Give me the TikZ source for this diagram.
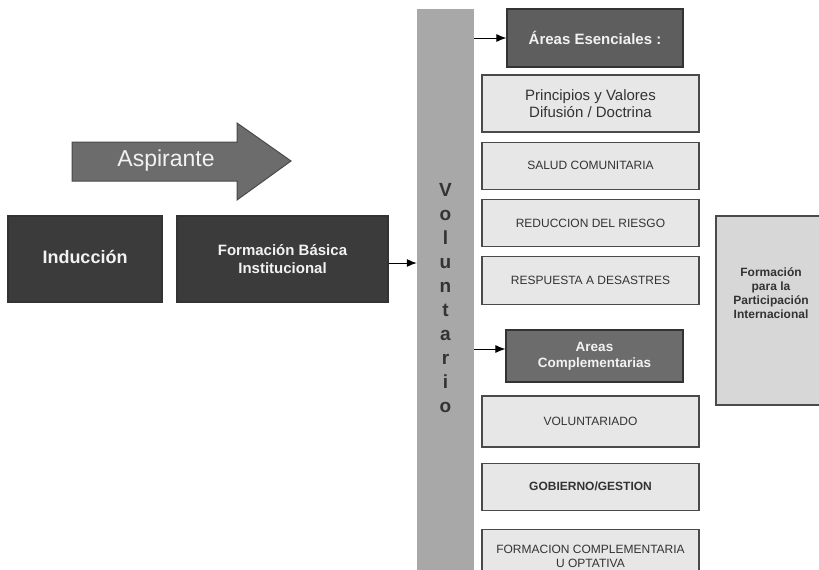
\documentclass[tikz,border=0pt]{standalone}
\usepackage{fontspec}
\setmainfont{Liberation Sans}
\usetikzlibrary{arrows.meta,positioning}

\definecolor{darkfill}{HTML}{3B3B3B}
\definecolor{midfill}{HTML}{5E5E5E}
\definecolor{arrowfill}{HTML}{6C6C6C}
\definecolor{lightfill}{HTML}{E7E7E7}
\definecolor{sidefill}{HTML}{D7D7D7}
\definecolor{barfill}{HTML}{A8A8A8}
\definecolor{edgegray}{HTML}{4A4A4A}
\definecolor{inktext}{HTML}{333333}
\definecolor{paletext}{HTML}{F2F2F2}

\begin{document}
\begin{tikzpicture}[x=1pt,y=-1pt,>={Latex[length=10pt,width=8pt]},node distance=9pt,
  every node/.style={align=center,inner sep=0pt},
  darkbox/.style={draw=black!80,line width=1.2pt,fill=darkfill,text=paletext,font=\bfseries},
  headbox/.style={draw=black!80,line width=1.2pt,fill=midfill,text=paletext,font=\bfseries},
  areabox/.style={draw=edgegray,line width=1.2pt,fill=lightfill,text=inktext,
    minimum width=217pt,minimum height=47pt,font=\fontsize{12}{14}\selectfont},
  link/.style={->,line width=1pt}]
  \useasboundingbox (0,0) rectangle (819,570);
  \clip (0,0) rectangle (819,570);

  % aspirante arrow
  \draw[draw=edgegray,line width=1pt,fill=arrowfill]
    (72,142) -- (237,142) -- (237,123) -- (291,161) -- (237,200) -- (237,181) -- (72,181) -- cycle;
  \node[text=paletext,font=\fontsize{23}{27}\selectfont] (asp) at (166,161) {Aspirante};

  % left boxes
  \node[darkbox,minimum width=154pt,minimum height=86pt,font=\fontsize{18}{21}\selectfont\bfseries]
    (induc) at (85,259) {\raisebox{5pt}{Inducci\'on}};
  \node[darkbox,minimum width=211pt,minimum height=86pt,font=\fontsize{15}{18}\selectfont\bfseries]
    (fbi) at (282.5,259) {Formaci\'on B\'asica\\Institucional};

  % voluntario bar
  \node[fill=barfill,minimum width=57pt,minimum height=578pt,text=inktext,
    font=\fontsize{19}{24}\selectfont\bfseries]
    (vol) at (445.5,298) {V\\o\\l\\u\\n\\t\\a\\r\\i\\o};

  % areas esenciales
  \node[headbox,minimum width=176pt,minimum height=58pt,font=\fontsize{15}{18}\selectfont\bfseries]
    (esen) at (595,38) {\'Areas Esenciales :};
  \node[areabox,minimum height=57pt,font=\fontsize{15}{17}\selectfont]
    (prin) at (590.5,103.5) {Principios y Valores\\Difusi\'on / Doctrina};
  \node[areabox] (salud) [below=of prin] {SALUD COMUNITARIA};
  \node[areabox] (riesgo) [below=of salud] {REDUCCION DEL RIESGO};
  \node[areabox,minimum height=48pt] (resp) [below=of riesgo] {RESPUESTA A DESASTRES};

  % areas complementarias
  \node[headbox,fill=arrowfill,minimum width=177pt,minimum height=52pt,font=\fontsize{13.5}{16}\selectfont\bfseries]
    (comp) at (594.5,356) {Areas\\Complementarias};
  \node[areabox,minimum height=51pt] (volun) at (590.5,421.5) {VOLUNTARIADO};
  \node[areabox,font=\fontsize{12}{14}\selectfont\bfseries] (gob) [below=15pt of volun] {GOBIERNO/GESTION};
  \node[areabox,minimum height=53pt] (fcomp) [below=18pt of gob] {FORMACION COMPLEMENTARIA\\U OPTATIVA};

  % participacion internacional
  \node[draw=edgegray,line width=1.2pt,fill=sidefill,minimum width=110pt,minimum height=189pt]
    (intl) at (771,310.5) {};
  \node[text=inktext,font=\fontsize{12}{14}\selectfont\bfseries] (intltxt) at (771,293)
    {Formaci\'on\\para la\\Participaci\'on\\Internacional};

  % connectors
  \draw[link] ([yshift=-4pt]fbi.east) -- ([yshift=-4pt]fbi.east -| vol.west);
  \draw[link] (esen.west -| vol.east) -- (esen.west);
  \draw[link] ([yshift=7pt]comp.west -| vol.east) -- ([yshift=7pt]comp.west);
\end{tikzpicture}
\end{document}
